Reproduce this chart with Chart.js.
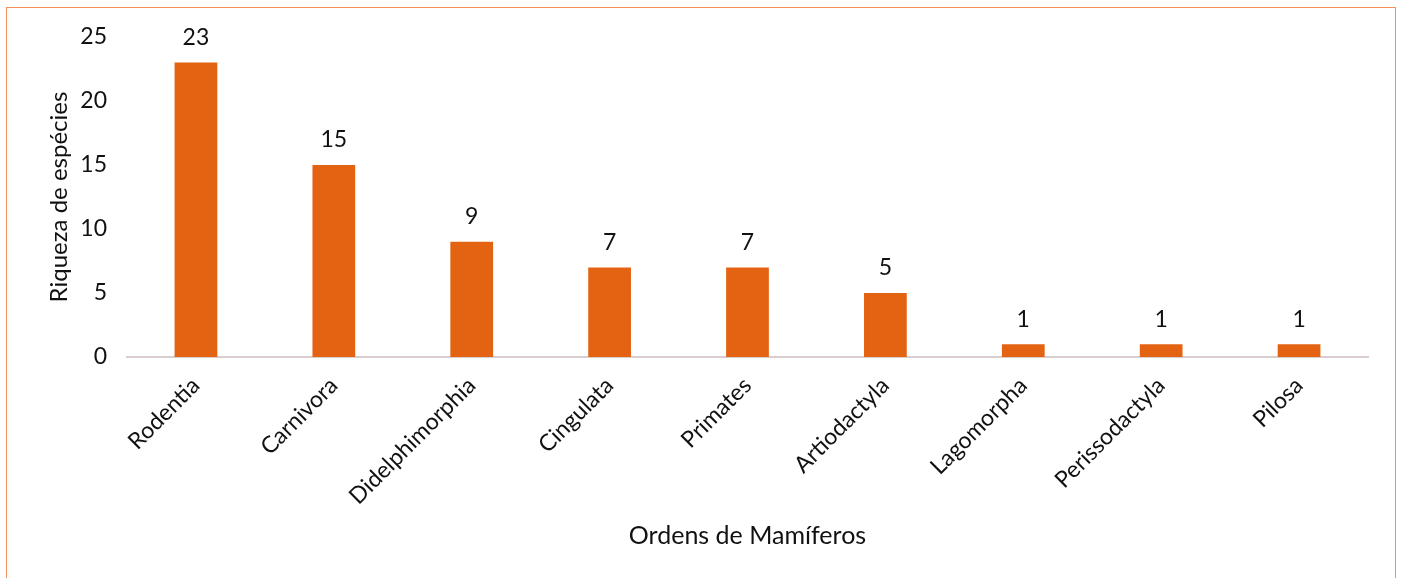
<!DOCTYPE html>
<html>
<head>
<meta charset="utf-8">
<script src="https://cdn.jsdelivr.net/npm/chart.js@4"></script>
<style>
  html, body { margin: 0; padding: 0; background: #fff; }
  #wrap { position: relative; width: 1403px; height: 578px; overflow: hidden; }
  #frame { position: absolute; left: 6px; top: 7px; width: 1390px; height: 600px; border: 1.5px solid #F0905A; box-sizing: border-box; }
  canvas { position: absolute; left: 0; top: 0; }
</style>
</head>
<body>
<div id="wrap">
  <div id="frame"></div>
  <canvas id="c" width="1403" height="578"></canvas>
</div>
<script>
const categories = ["Rodentia", "Carnivora", "Didelphimorphia", "Cingulata", "Primates", "Artiodactyla", "Lagomorpha", "Perissodactyla", "Pilosa"];
const riqueza = [23, 15, 9, 7, 7, 5, 1, 1, 1];
const yTicks = [0, 5, 10, 15, 20, 25];
const xTitle = "Ordens de Mamíferos";
const yTitle = "Riqueza de espécies";

const FONT = "Lato, 'Open Sans', sans-serif";

const valueLabels = {
  id: 'valueLabels',
  afterDatasetsDraw(chart) {
    const ctx = chart.ctx;
    const meta = chart.getDatasetMeta(0);
    ctx.save();
    ctx.font = "23px " + FONT;
    ctx.fillStyle = "#111";
    ctx.textAlign = "center";
    ctx.textBaseline = "middle";
    meta.data.forEach((bar, i) => {
      ctx.fillText(String(chart.data.datasets[0].data[i]), bar.x, bar.y - 25);
    });
    ctx.restore();
  }
};

new Chart(document.getElementById('c'), {
  type: 'bar',
  data: {
    labels: categories,
    datasets: [{
      data: riqueza,
      backgroundColor: '#E46312',
      borderWidth: 0,
      barPercentage: 0.62,
      categoryPercentage: 0.5
    }]
  },
  options: {
    responsive: false,
    animation: false,
    events: [],
    layout: { padding: { top: 37, right: 35, bottom: 0, left: 0 } },
    plugins: {
      legend: { display: false },
      tooltip: { enabled: false },
      title: { display: false }
    },
    scales: {
      x: {
        grid: { display: false, drawTicks: false },
        border: { display: true, color: '#D9CDCD', width: 2 },
        ticks: {
          color: '#111',
          font: { family: FONT, size: 23 },
          minRotation: 45,
          maxRotation: 45,
          padding: 15,
          autoSkip: false
        },
        title: {
          display: true,
          text: xTitle,
          color: '#111',
          font: { family: FONT, size: 25 },
          padding: { top: 0, bottom: 27 }
        },
        afterFit(scale) { scale.height = 221; }
      },
      y: {
        min: 0,
        max: 25,
        afterBuildTicks(scale) { scale.ticks = yTicks.map(v => ({ value: v })); },
        grid: { display: false, drawTicks: false },
        border: { display: false },
        ticks: {
          color: '#111',
          font: { family: FONT, size: 23 },
          padding: 20
        },
        title: {
          display: true,
          text: yTitle,
          color: '#111',
          font: { family: FONT, size: 24 },
          padding: { top: 45, bottom: 0 }
        },
        afterFit(scale) { scale.width = 127; }
      }
    }
  },
  plugins: [valueLabels]
});
</script>
</body>
</html>
